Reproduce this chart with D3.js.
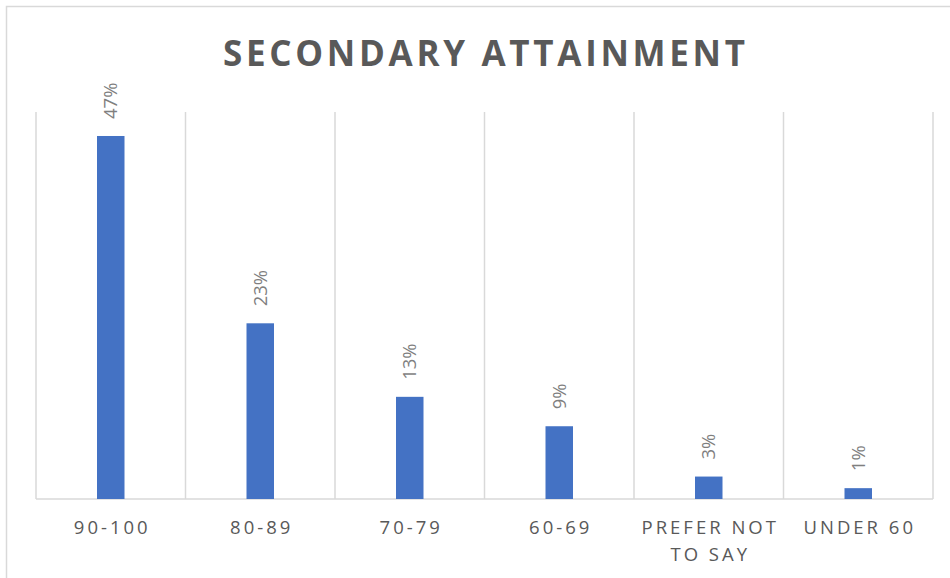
<!DOCTYPE html>
<html>
<head>
<meta charset="utf-8">
<script src="https://cdn.jsdelivr.net/npm/d3@7"></script>
<style>
  html, body { margin: 0; padding: 0; background: #fff; }
  svg { display: block; }
</style>
</head>
<body>
<svg id="chart" width="950" height="578"></svg>
<script>
const title = "SECONDARY ATTAINMENT";
const categories = ["90-100", "80-89", "70-79", "60-69", "PREFER NOT TO SAY", "UNDER 60"];
const categoryLines = [["90-100"], ["80-89"], ["70-79"], ["60-69"], ["PREFER NOT", "TO SAY"], ["UNDER 60"]];
const values = [0.469, 0.227, 0.132, 0.094, 0.029, 0.014];
const yDomain = [0, 0.5];

const svg = d3.select("#chart");
const W = 950, H = 578;
const margin = { left: 36, right: 17, top: 112, bottom: 79 };
const plotW = W - margin.left - margin.right;
const plotH = H - margin.top - margin.bottom;

svg.append("rect")
  .attr("x", 6.5).attr("y", 6.5)
  .attr("width", 960).attr("height", 600)
  .attr("fill", "#fff").attr("stroke", "#d9d9d9").attr("stroke-width", 1.5);

svg.append("text")
  .attr("x", 223).attr("y", 65.5)
  .attr("textLength", 522).attr("lengthAdjust", "spacing")
  .attr("font-family", "'Open Sans', 'Liberation Sans', sans-serif")
  .attr("font-weight", "bold").attr("font-size", 35)
  .attr("fill", "#595959")
  .text(title);

const g = svg.append("g").attr("transform", `translate(${margin.left},${margin.top})`);

const x = d3.scaleBand().domain(categories).range([0, plotW]).paddingInner(0).paddingOuter(0);
const y = d3.scaleLinear().domain(yDomain).range([plotH, 0]);

const seps = d3.range(categories.length + 1).map(i => i === categories.length ? plotW : x(categories[i]));
g.selectAll("line.sep").data(seps).join("line")
  .attr("class", "sep")
  .attr("x1", d => d).attr("x2", d => d)
  .attr("y1", 0).attr("y2", plotH)
  .attr("stroke", "#d9d9d9").attr("stroke-width", 1.5);

g.append("line")
  .attr("x1", 0).attr("x2", plotW)
  .attr("y1", plotH).attr("y2", plotH)
  .attr("stroke", "#d9d9d9").attr("stroke-width", 1.5);

const barW = 27.5;
g.selectAll("rect.bar").data(values).join("rect")
  .attr("class", "bar")
  .attr("x", (d, i) => x(categories[i]) + x.bandwidth() / 2 - barW / 2)
  .attr("width", barW)
  .attr("y", d => y(d))
  .attr("height", d => plotH - y(d))
  .attr("fill", "#4472c4");

g.selectAll("text.lab").data(values).join("text")
  .attr("class", "lab")
  .attr("transform", (d, i) => `translate(${x(categories[i]) + x.bandwidth() / 2 + 6.5},${y(d) - 17}) rotate(-90)`)
  .attr("font-family", "'Open Sans', 'Liberation Sans', sans-serif")
  .attr("font-size", 18.5)
  .attr("fill", "#7f7f7f")
  .text(d => Math.round(d * 100) + "%");

const cl = g.selectAll("text.cat").data(categoryLines).join("text")
  .attr("class", "cat")
  .attr("font-family", "'Open Sans', 'Liberation Sans', sans-serif")
  .attr("font-size", 18.5)
  .attr("letter-spacing", 3)
  .attr("fill", "#595959")
  .attr("text-anchor", "middle");
cl.each(function(lines, i) {
  const t = d3.select(this);
  lines.forEach((ln, j) => {
    t.append("tspan")
      .attr("x", x(categories[i]) + x.bandwidth() / 2 + 1.5)
      .attr("y", plotH + 35 + j * 27)
      .text(ln);
  });
});
</script>
</body>
</html>
